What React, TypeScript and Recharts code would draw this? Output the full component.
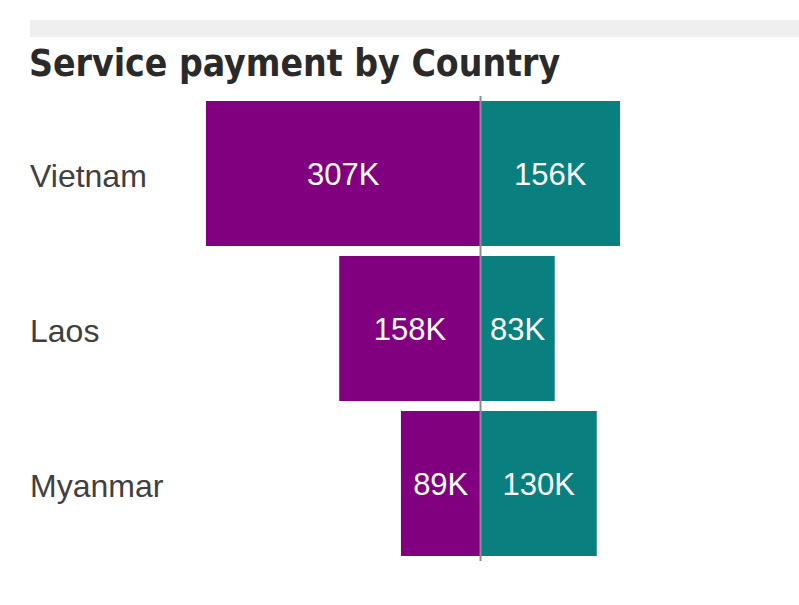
import React from "react";
import { BarChart, Bar, XAxis, YAxis, ReferenceLine, LabelList } from "recharts";

const countries = ["Vietnam", "Laos", "Myanmar"];
const leftValues = [307, 158, 89];
const rightValues = [156, 83, 130];
const title = "Service payment by Country";

const data = countries.map((c, i) => ({
  country: c,
  left: -leftValues[i],
  right: rightValues[i],
}));

const CategoryTick = (props: any) => {
  const { y, payload } = props;
  return (
    <text
      x={30}
      y={y + 2}
      dy="0.355em"
      textAnchor="start"
      fontFamily="'Liberation Sans', Arial, sans-serif"
      fontSize={32}
      fill="#404040"
    >
      {payload.value}
    </text>
  );
};

const fmt = (v: any) => `${Math.abs(Number(v))}K`;

export default function App() {
  return (
    <div
      style={{
        position: "absolute",
        left: 0,
        top: 0,
        width: 799,
        height: 605,
        background: "#ffffff",
        overflow: "hidden",
      }}
    >
      <div
        style={{
          position: "absolute",
          left: 30,
          top: 20,
          width: 769,
          height: 17,
          background: "#efefef",
        }}
      />
      <div
        style={{
          position: "absolute",
          left: 29,
          top: 39,
          fontFamily: "'DejaVu Sans Condensed', 'DejaVu Sans', sans-serif",
          fontSize: 37,
          fontWeight: 700,
          color: "#2a2a2a",
          whiteSpace: "nowrap",
          lineHeight: "50px",
        }}
      >
        {title}
      </div>
      <div style={{ position: "absolute", left: 0, top: 0 }}>
        <BarChart
          width={799}
          height={605}
          data={data}
          layout="vertical"
          stackOffset="sign"
          margin={{ top: 96, right: 179, bottom: 44, left: 30 }}
          barCategoryGap={5}
        >
          <XAxis type="number" domain={[-307, 156]} hide allowDataOverflow />
          <YAxis
            type="category"
            dataKey="country"
            width={176}
            axisLine={false}
            tickLine={false}
            tick={<CategoryTick />}
          />
          <Bar dataKey="left" stackId="a" fill="#800080" isAnimationActive={false}>
            <LabelList
              dataKey="left"
              position="center"
              formatter={fmt}
              fill="#ffffff"
              fontSize={31}
              fontFamily="'Liberation Sans', Arial, sans-serif"
            />
          </Bar>
          <Bar dataKey="right" stackId="a" fill="#0a7f7f" isAnimationActive={false}>
            <LabelList
              dataKey="right"
              position="center"
              formatter={fmt}
              fill="#ffffff"
              fontSize={31}
              fontFamily="'Liberation Sans', Arial, sans-serif"
            />
          </Bar>
          <ReferenceLine x={0} stroke="#8a8a96" strokeWidth={2} />
        </BarChart>
      </div>
    </div>
  );
}
